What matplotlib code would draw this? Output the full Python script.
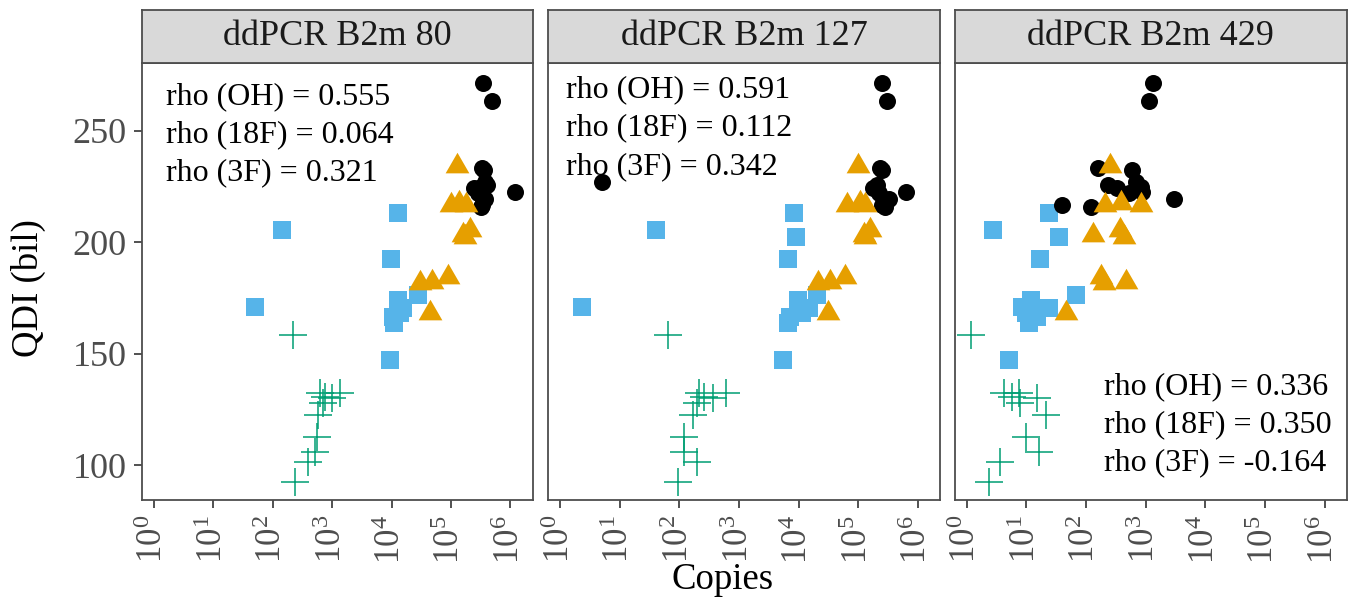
import matplotlib
matplotlib.use("Agg")
import matplotlib.pyplot as plt
from matplotlib.path import Path

plt.rcParams['font.family'] = ['Liberation Serif', 'DejaVu Serif']
plt.rcParams['mathtext.fontset'] = 'custom'
plt.rcParams['mathtext.rm'] = 'Liberation Serif'
plt.rcParams['mathtext.it'] = 'Liberation Serif:italic'
plt.rcParams['mathtext.bf'] = 'Liberation Serif:bold'

# ---------------- data ----------------
panels = ["ddPCR B2m 80", "ddPCR B2m 127", "ddPCR B2m 429"]

# OH (black circles)
oh_qdi = [271.4, 263.6, 233.2, 232.5, 225.7, 224.3, 227.2, 225.0, 222.0, 222.7, 216.8, 216.0, 219.3]
oh_copies_80 = [3.50e5, 4.84e5, 3.29e5, 3.55e5, 3.98e5, 2.40e5, 3.80e5, 3.16e5, 2.82e5, 1.19e6, 3.31e5, 3.16e5, 3.80e5]
oh_copies_127 = [2.55e5, 3.02e5, 2.34e5, 2.51e5, 2.04e5, 1.78e5, 5.0, 1.95e5, 2.19e5, 6.31e5, 2.51e5, 2.82e5, 3.31e5]
oh_copies_429 = [1337, 1146, 161, 586, 238, 337, 686, 830, 528, 883, 40.2, 120, 3006]

# 18F (orange triangles)
f18_qdi = [234.3, 216.8, 217.6, 216.8, 203.3, 205.5, 202.5, 184.6, 181.6, 182.3, 168.1]
f18_copies_80 = [1.26e5, 1.02e5, 1.38e5, 1.82e5, 1.62e5, 2.09e5, 1.74e5, 9.0e4, 3.0e4, 4.73e4, 4.47e4]
f18_copies_127 = [1.0e5, 6.46e4, 1.07e5, 1.29e5, 1.23e5, 1.58e5, 1.32e5, 6.03e4, 2.14e4, 3.31e4, 3.09e4]
f18_copies_429 = [254, 209, 380, 832, 129, 372, 437, 182, 200, 468, 46.8]

# 3F (blue squares); one point is not visible in the first panel
f3_qdi = [213.0, 205.5, 202.2, 192.4, 176.3, 174.1, 170.3, 168.1, 166.6, 163.6, 171.0, 147.1]
f3_copies_80 = [1.26e4, 141, float('nan'), 9772, 2.82e4, 1.29e4, 1.58e4, 1.41e4, 1.07e4, 1.12e4, 51.3, 9333]
f3_copies_127 = [8511, 39.8, 9120, 6607, 2.0e4, 9772, 1.48e4, 1.12e4, 7079, 6761, 2.31, 5495]
f3_copies_429 = [24.0, 2.79, 35.4, 16.8, 67.5, 11.9, 24.0, 9.77, 15.3, 11.1, 8.57, 5.13]

# other (green crosses)
x_qdi = [158.4, 132.5, 132.3, 129.9, 130.7, 127.7, 122.4, 112.7, 105.9, 101.5, 92.5]
x_copies_80 = [216, 631, 1349, 1000, 759, 708, 589, 550, 513, 398, 234]
x_copies_127 = [63.1, 214, 603, 363, 263, 200, 166, 120, 120, 195, 93.3]
x_copies_429 = [1.17, 4.23, 7.55, 15.3, 5.82, 7.76, 21.2, 9.77, 16.3, 3.58, 2.37]

rho_labels = [
    ["rho (OH) = 0.555", "rho (18F) = 0.064", "rho (3F) = 0.321"],
    ["rho (OH) = 0.591", "rho (18F) = 0.112", "rho (3F) = 0.342"],
    ["rho (OH) = 0.336", "rho (18F) = 0.350", "rho (3F) = -0.164"],
]

x_ticks = [1e0, 1e1, 1e2, 1e3, 1e4, 1e5, 1e6]
x_tick_labels = [r"$10^{0}$", r"$10^{1}$", r"$10^{2}$", r"$10^{3}$", r"$10^{4}$", r"$10^{5}$", r"$10^{6}$"]
y_ticks = [100, 150, 200, 250]

oh_all = [oh_copies_80, oh_copies_127, oh_copies_429]
f18_all = [f18_copies_80, f18_copies_127, f18_copies_429]
f3_all = [f3_copies_80, f3_copies_127, f3_copies_429]
x_all = [x_copies_80, x_copies_127, x_copies_429]

# ---------------- style ----------------
C_OH = "#000000"
C_18F = "#E69F00"
C_3F = "#56B4E9"
C_X = "#009E73"
BORDER = "#4D4D4D"
TICKC = "#4D4D4D"

tri = Path([(0, 1), (-0.866, -0.5), (0.866, -0.5), (0, 1)],
           [Path.MOVETO, Path.LINETO, Path.LINETO, Path.CLOSEPOLY])

W, H = 1360, 598
fig = plt.figure(figsize=(W / 100, H / 100), dpi=100)

panel_px = [(142, 532.5), (548.3, 940), (954.7, 1346.7)]
top_px, bot_px, strip_top = 63.3, 500, 10

text_pos = [
    (0.0615, [97, 135, 172.5], 'left'),
    (0.044, [90, 128, 166.7], 'left'),
    (0.381, [386.7, 425, 462.5], 'left'),
]

for i, (x0, x1) in enumerate(panel_px):
    ax = fig.add_axes([x0 / W, 1 - bot_px / H, (x1 - x0) / W, (bot_px - top_px) / H])
    ax.set_xscale('log')
    ax.set_xlim(10 ** -0.2, 10 ** 6.372)
    ax.set_ylim(84.3, 280.4)

    ax.scatter(f3_all[i], f3_qdi, marker='s', s=165, c=C_3F, linewidths=0, zorder=3)
    ax.scatter(oh_all[i], oh_qdi, marker='o', s=150, c=C_OH, linewidths=0, zorder=3)
    ax.scatter(f18_all[i], f18_qdi, marker=tri, s=390, c=C_18F, linewidths=0, zorder=3)
    ax.scatter(x_all[i], x_qdi, marker='+', s=380, c=C_X, linewidths=1.1, zorder=3)

    for sp in ax.spines.values():
        sp.set_color(BORDER)
        sp.set_linewidth(1.3)

    ax.minorticks_off()
    ax.set_xticks(x_ticks)
    ax.set_xticklabels(x_tick_labels, rotation=90, fontsize=25, color=TICKC)
    ax.tick_params(axis='x', which='major', length=6, width=1.2, color='#333333', pad=5)
    ax.xaxis.set_minor_locator(matplotlib.ticker.NullLocator())
    if i == 0:
        ax.set_yticks(y_ticks)
        ax.set_yticklabels([str(v) for v in y_ticks], fontsize=26, color=TICKC)
        ax.tick_params(axis='y', length=6, width=1.2, color='#333333', pad=5)
    else:
        ax.set_yticks([])

    tx, tys, ha = text_pos[i]
    for lab, ty in zip(rho_labels[i], tys):
        ax.text(tx, (bot_px - ty) / (bot_px - top_px), lab, transform=ax.transAxes,
                ha=ha, va='center', fontsize=23, color='black', zorder=5)

    # strip
    sax = fig.add_axes([x0 / W, 1 - top_px / H, (x1 - x0) / W, (top_px - strip_top) / H])
    sax.set_facecolor('#D9D9D9')
    sax.set_xticks([])
    sax.set_yticks([])
    for sp in sax.spines.values():
        sp.set_color(BORDER)
        sp.set_linewidth(1.3)
    sax.text(0.5, 0.5, panels[i], ha='center', va='center', fontsize=26,
             color='#1A1A1A', transform=sax.transAxes)

fig.text(723 / W, 1 - 580 / H, "Copies", ha='center', va='center', fontsize=26.5)
fig.text(28 / W, 1 - 288 / H, "QDI (bil)", ha='center', va='center', fontsize=26.5, rotation=90)

fig.savefig("out.png", dpi=100)
